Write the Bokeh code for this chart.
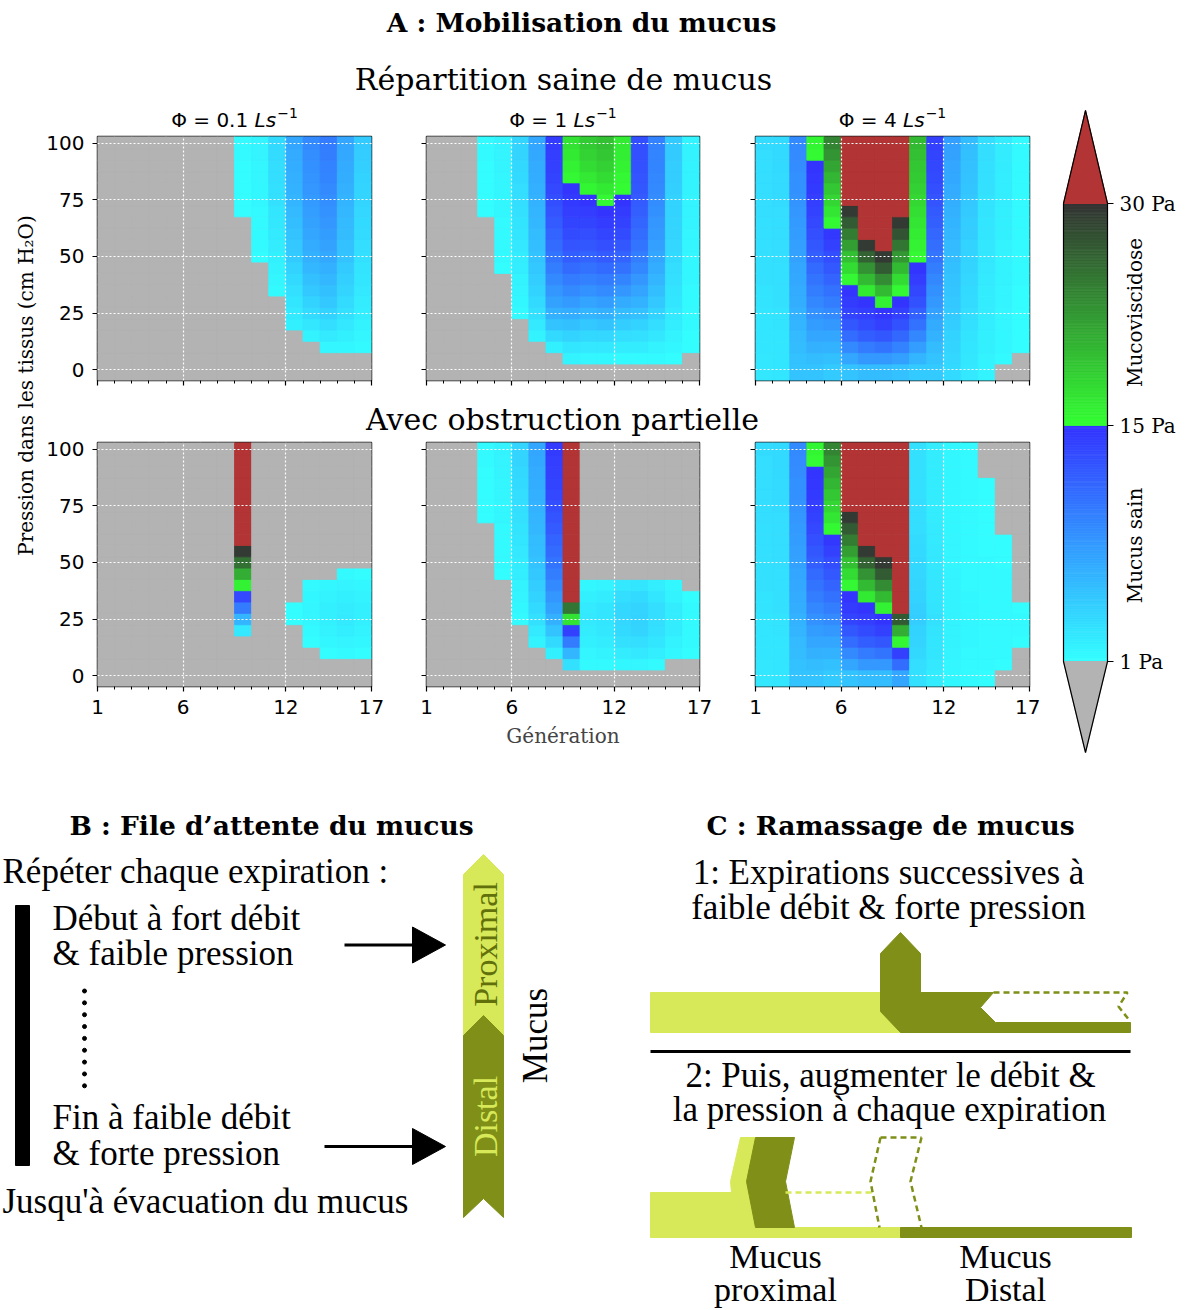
import numpy as np
from bokeh.plotting import figure
from bokeh.models import Range1d, LinearColorMapper, FixedTicker, ColumnDataSource
from bokeh.layouts import row, column
from bokeh.transform import transform
from bokeh.core.properties import value
from bokeh.embed import file_html
from bokeh.resources import INLINE

# ------------------------------------------------------------------ data
PRESSURE = [0, 5, 10, 15, 20, 25, 30, 35, 40, 45, 50, 55, 60, 65, 70, 75, 80, 85, 90, 95, 100]
GENERATION = [1, 2, 3, 4, 5, 6, 7, 8, 9, 10, 11, 12, 13, 14, 15, 16]
GEN_TICKS = [1, 6, 12, 17]
GEN_MINOR = [1, 2, 3, 4, 5, 6, 7, 8, 9, 10, 11, 12, 13, 14, 15, 16, 17]
PRESSURE_TICKS = [0, 25, 50, 75, 100]
FLOW_LABELS = ["0.1", "1", "4"]
STRESS_TICKS = [1, 15, 30]
STRESS_TICK_LABELS = ["1 Pa", "15 Pa", "30 Pa"]
# wall stress (Pa) per generation column, bottom (0 cmH2O) to top (100 cmH2O)
# 0 = below 1 Pa (grey), 40 = above 30 Pa (red)
healthy_01 = [
    [0,0,0,0,0,0,0,0,0,0,0,0,0,0,0,0,0,0,0,0,0],
    [0,0,0,0,0,0,0,0,0,0,0,0,0,0,0,0,0,0,0,0,0],
    [0,0,0,0,0,0,0,0,0,0,0,0,0,0,0,0,0,0,0,0,0],
    [0,0,0,0,0,0,0,0,0,0,0,0,0,0,0,0,0,0,0,0,0],
    [0,0,0,0,0,0,0,0,0,0,0,0,0,0,0,0,0,0,0,0,0],
    [0,0,0,0,0,0,0,0,0,0,0,0,0,0,0,0,0,0,0,0,0],
    [0,0,0,0,0,0,0,0,0,0,0,0,0,0,0,0,0,0,0,0,0],
    [0,0,0,0,0,0,0,0,0,0,0,0,0,0,0,0,0,0,0,0,0],
    [0,0,0,0,0,0,0,0,0,0,0,0,0,0,1.1,1.1,1.2,1.2,1.2,1.3,1.3],
    [0,0,0,0,0,0,0,0,0,0,1.2,1.3,1.3,1.4,1.4,1.5,1.5,1.6,1.6,1.7,1.7],
    [0,0,0,0,0,0,0,1.4,1.6,1.8,2.0,2.2,2.4,2.6,2.8,3.0,3.1,3.2,3.3,3.4,3.5],
    [0,0,0,0,2.0,2.4,2.8,3.1,3.5,4.0,4.5,4.8,5.1,5.4,5.7,6.0,6.2,6.4,6.6,6.8,7.0],
    [0,0,0,1.8,2.6,3.4,4.1,4.7,5.3,5.8,6.3,6.7,7.0,7.3,7.6,7.9,8.1,8.3,8.5,8.7,9.0],
    [0,0,1.6,2.4,3.2,4.0,4.7,5.3,5.9,6.4,6.9,7.3,7.7,8.1,8.4,8.7,9.0,9.3,9.5,9.8,10.0],
    [0,0,1.5,2.0,2.5,3.0,3.4,3.8,4.2,4.6,5.0,5.2,5.5,5.7,5.9,6.1,6.3,6.5,6.7,6.9,7.0],
    [0,0,1.3,1.6,1.9,2.1,2.3,2.5,2.7,2.9,3.1,3.2,3.4,3.5,3.7,3.8,3.9,4.1,4.2,4.4,4.5],
]
healthy_1 = [
    [0,0,0,0,0,0,0,0,0,0,0,0,0,0,0,0,0,0,0,0,0],
    [0,0,0,0,0,0,0,0,0,0,0,0,0,0,0,0,0,0,0,0,0],
    [0,0,0,0,0,0,0,0,0,0,0,0,0,0,0,0,0,0,0,0,0],
    [0,0,0,0,0,0,0,0,0,0,0,0,0,0,1.1,1.1,1.2,1.2,1.2,1.3,1.3],
    [0,0,0,0,0,0,0,0,0,1.2,1.3,1.3,1.4,1.4,1.5,1.5,1.6,1.6,1.7,1.7,1.8],
    [0,0,0,0,0,1.3,1.5,1.7,1.9,2.1,2.3,2.5,2.7,2.9,3.0,3.2,3.3,3.5,3.6,3.8,3.9],
    [0,0,0,1.8,2.4,3.0,3.5,4.0,4.4,4.8,5.1,5.4,5.6,5.8,6.0,6.2,6.4,6.6,6.8,6.9,7.0],
    [0,0,2.0,3.5,5.0,6.3,7.3,8.2,9.0,9.8,10.5,11.1,11.7,12.2,12.7,13.1,13.5,13.8,14.0,14.2,14.4],
    [0,1.8,2.8,4.0,5.3,6.6,7.8,9.0,10.1,11.1,12.0,12.7,13.3,13.8,14.2,14.5,14.8,15.5,16.0,16.5,17.0],
    [0,1.6,2.5,3.6,4.8,6.0,7.2,8.4,9.6,10.7,11.7,12.5,13.2,13.8,14.3,14.8,15.6,16.6,17.5,18.2,18.8],
    [0,1.5,2.5,3.7,5.0,6.3,7.6,8.9,10.1,11.2,12.2,13.0,13.7,14.3,14.8,15.4,16.5,17.5,18.3,19.0,19.5],
    [0,1.4,2.2,3.2,4.3,5.5,6.8,8.1,9.4,10.6,11.6,12.5,13.3,13.9,14.4,14.8,15.2,15.5,15.8,16.1,16.4],
    [0,1.4,2.2,3.1,4.1,5.2,6.2,7.2,8.2,9.1,9.9,10.5,11.0,11.5,11.9,12.2,12.5,12.7,12.9,13.0,13.1],
    [0,1.3,1.9,2.6,3.3,4.0,4.7,5.4,6.0,6.6,7.1,7.5,7.9,8.2,8.5,8.8,9.0,9.2,9.3,9.4,9.5],
    [0,1.2,1.5,1.8,2.1,2.4,2.7,2.9,3.1,3.3,3.5,3.7,3.8,3.9,4.0,4.1,4.2,4.3,4.4,4.5,4.5],
    [0,0,1.1,1.2,1.3,1.3,1.4,1.4,1.5,1.5,1.6,1.6,1.6,1.7,1.7,1.7,1.8,1.8,1.8,1.8,1.8],
]
healthy_4 = [
    [2.6,2.6,2.7,2.7,2.8,2.8,2.9,2.9,3.0,3.0,3.0,3.1,3.1,3.1,3.2,3.2,3.2,3.3,3.3,3.3,3.4],
    [2.7,2.7,2.8,2.8,2.9,2.9,3.0,3.0,3.1,3.1,3.2,3.2,3.3,3.3,3.3,3.4,3.4,3.4,3.5,3.5,3.5],
    [5.0,5.2,5.5,5.7,6.0,6.2,6.5,6.7,6.9,7.1,7.3,7.5,7.7,7.9,8.1,8.3,8.5,8.6,8.8,8.9,9.0],
    [5.0,5.6,6.3,7.0,7.7,8.4,9.1,9.8,10.5,11.2,11.9,12.5,13.0,13.5,13.9,14.2,14.5,14.7,14.8,15.3,15.6],
    [4.5,5.3,6.2,7.1,8.0,8.9,9.8,10.7,11.6,12.4,13.2,14.0,14.6,15.4,16.8,18.0,19.2,20.4,21.6,22.8,24.0],
    [5.0,7.0,9.0,11.0,12.5,13.8,14.4,14.8,15.5,17.5,19.5,22.0,24.5,27.0,29.5,40,40,40,40,40,40],
    [5.5,8.0,10.0,12.0,13.3,14.2,14.8,16.5,20.0,23.0,26.5,29.5,40,40,40,40,40,40,40,40,40],
    [5.5,8.0,10.5,12.5,14.0,14.8,16.0,20.0,23.5,27.0,29.5,40,40,40,40,40,40,40,40,40,40],
    [5.2,7.5,9.5,11.3,12.8,14.0,14.8,15.5,17.5,20.0,22.5,25.0,27.5,29.5,40,40,40,40,40,40,40],
    [4.5,6.0,7.6,9.2,10.6,11.8,12.8,13.6,14.3,14.8,15.3,15.8,16.3,16.8,17.3,17.8,18.3,18.8,19.2,19.6,20.0],
    [4.5,5.0,5.6,6.2,6.8,7.4,8.0,8.6,9.2,9.8,10.4,10.9,11.4,11.9,12.3,12.7,13.0,13.3,13.6,13.8,14.0],
    [3.5,3.7,3.9,4.1,4.3,4.5,4.7,4.9,5.1,5.3,5.5,5.7,5.9,6.1,6.3,6.5,6.7,6.9,7.1,7.3,7.5],
    [2.5,2.6,2.8,2.9,3.1,3.2,3.4,3.5,3.7,3.8,4.0,4.1,4.3,4.4,4.6,4.7,4.9,5.0,5.2,5.3,5.5],
    [1.8,1.9,2.0,2.0,2.1,2.2,2.3,2.3,2.4,2.5,2.6,2.6,2.7,2.8,2.9,2.9,3.0,3.1,3.1,3.2,3.3],
    [0,1.4,1.5,1.5,1.6,1.6,1.7,1.7,1.8,1.8,1.9,1.9,2.0,2.0,2.0,2.1,2.1,2.1,2.2,2.2,2.2],
    [0,0,1.1,1.1,1.2,1.2,1.2,1.2,1.3,1.3,1.3,1.3,1.3,1.3,1.4,1.4,1.4,1.4,1.4,1.4,1.4],
]
obstructed_01 = [
    [0,0,0,0,0,0,0,0,0,0,0,0,0,0,0,0,0,0,0,0,0],
    [0,0,0,0,0,0,0,0,0,0,0,0,0,0,0,0,0,0,0,0,0],
    [0,0,0,0,0,0,0,0,0,0,0,0,0,0,0,0,0,0,0,0,0],
    [0,0,0,0,0,0,0,0,0,0,0,0,0,0,0,0,0,0,0,0,0],
    [0,0,0,0,0,0,0,0,0,0,0,0,0,0,0,0,0,0,0,0,0],
    [0,0,0,0,0,0,0,0,0,0,0,0,0,0,0,0,0,0,0,0,0],
    [0,0,0,0,0,0,0,0,0,0,0,0,0,0,0,0,0,0,0,0,0],
    [0,0,0,0,0,0,0,0,0,0,0,0,0,0,0,0,0,0,0,0,0],
    [0,0,0,0,2.5,6.0,10.0,13.5,16.0,21.0,25.5,29.5,40,40,40,40,40,40,40,40,40],
    [0,0,0,0,0,0,0,0,0,0,0,0,0,0,0,0,0,0,0,0,0],
    [0,0,0,0,0,0,0,0,0,0,0,0,0,0,0,0,0,0,0,0,0],
    [0,0,0,0,0,1.2,1.2,0,0,0,0,0,0,0,0,0,0,0,0,0,0],
    [0,0,0,1.2,1.4,1.6,1.6,1.5,1.3,0,0,0,0,0,0,0,0,0,0,0,0],
    [0,0,1.2,1.5,1.8,2.0,2.0,1.8,1.5,0,0,0,0,0,0,0,0,0,0,0,0],
    [0,0,1.3,1.7,2.1,2.4,2.3,2.0,1.7,1.3,0,0,0,0,0,0,0,0,0,0,0],
    [0,0,1.2,1.5,1.8,2.0,2.0,1.8,1.5,1.2,0,0,0,0,0,0,0,0,0,0,0],
]
obstructed_1 = [
    [0,0,0,0,0,0,0,0,0,0,0,0,0,0,0,0,0,0,0,0,0],
    [0,0,0,0,0,0,0,0,0,0,0,0,0,0,0,0,0,0,0,0,0],
    [0,0,0,0,0,0,0,0,0,0,0,0,0,0,0,0,0,0,0,0,0],
    [0,0,0,0,0,0,0,0,0,0,0,0,0,0,1.1,1.1,1.2,1.2,1.2,1.3,1.3],
    [0,0,0,0,0,0,0,0,0,1.2,1.3,1.3,1.4,1.4,1.5,1.5,1.6,1.6,1.7,1.7,1.8],
    [0,0,0,0,0,1.3,1.5,1.7,1.9,2.1,2.3,2.5,2.7,2.9,3.0,3.2,3.3,3.5,3.6,3.8,3.9],
    [0,0,0,1.8,2.4,3.0,3.5,4.0,4.4,4.8,5.1,5.4,5.6,5.8,6.0,6.2,6.4,6.6,6.8,6.9,7.0],
    [0,0,2.0,3.5,5.0,6.3,7.3,8.2,9.0,9.8,10.5,11.1,11.7,12.2,12.7,13.1,13.5,13.8,14.0,14.2,14.4],
    [0,3.0,6.0,10.0,14.0,17.0,25.0,40,40,40,40,40,40,40,40,40,40,40,40,40,40],
    [0,1.3,1.6,2.0,2.3,2.5,2.4,2.0,1.5,0,0,0,0,0,0,0,0,0,0,0,0],
    [0,1.4,1.9,2.3,2.6,2.8,2.7,2.3,1.7,0,0,0,0,0,0,0,0,0,0,0,0],
    [0,1.5,2.3,3.0,3.5,3.7,3.6,3.2,2.5,0,0,0,0,0,0,0,0,0,0,0,0],
    [0,1.6,2.5,3.3,3.8,4.0,3.9,3.5,2.7,0,0,0,0,0,0,0,0,0,0,0,0],
    [0,1.4,2.1,2.7,3.1,3.3,3.2,2.8,2.1,0,0,0,0,0,0,0,0,0,0,0,0],
    [0,0,1.5,1.9,2.2,2.3,2.2,1.9,1.5,0,0,0,0,0,0,0,0,0,0,0,0],
    [0,0,1.2,1.3,1.4,1.4,1.3,1.2,0,0,0,0,0,0,0,0,0,0,0,0,0],
]
obstructed_4 = [
    [2.6,2.6,2.7,2.7,2.8,2.8,2.9,2.9,3.0,3.0,3.0,3.1,3.1,3.1,3.2,3.2,3.2,3.3,3.3,3.3,3.4],
    [2.7,2.7,2.8,2.8,2.9,2.9,3.0,3.0,3.1,3.1,3.2,3.2,3.3,3.3,3.3,3.4,3.4,3.4,3.5,3.5,3.5],
    [5.0,5.2,5.5,5.7,6.0,6.2,6.5,6.7,6.9,7.1,7.3,7.5,7.7,7.9,8.1,8.3,8.5,8.6,8.8,8.9,9.0],
    [5.0,5.6,6.3,7.0,7.7,8.4,9.1,9.8,10.5,11.2,11.9,12.5,13.0,13.5,13.9,14.2,14.5,14.7,14.8,15.3,15.6],
    [4.5,5.3,6.2,7.1,8.0,8.9,9.8,10.7,11.6,12.4,13.2,14.0,14.6,15.4,16.8,18.0,19.2,20.4,21.6,22.8,24.0],
    [5.0,7.0,9.0,11.0,12.5,13.8,14.4,14.8,15.5,17.5,19.5,22.0,24.5,27.0,29.5,40,40,40,40,40,40],
    [5.5,8.0,10.0,12.0,13.3,14.2,14.8,16.5,20.0,23.0,26.5,29.5,40,40,40,40,40,40,40,40,40],
    [5.5,8.0,10.5,12.5,14.0,14.8,16.0,20.0,23.5,27.0,29.5,40,40,40,40,40,40,40,40,40,40],
    [7.0,11.0,14.0,15.5,21.0,27.0,40,40,40,40,40,40,40,40,40,40,40,40,40,40,40],
    [3.0,3.3,3.6,3.9,4.1,4.3,4.2,4.0,3.8,3.7,3.6,3.5,3.4,3.3,3.2,3.2,3.1,3.1,3.0,3.0,3.0],
    [2.3,2.5,2.7,2.8,2.9,3.0,2.9,2.8,2.7,2.6,2.5,2.5,2.4,2.4,2.3,2.3,2.3,2.2,2.2,2.2,2.2],
    [1.5,1.6,1.7,1.8,1.8,1.9,1.8,1.8,1.7,1.7,1.6,1.6,1.6,1.5,1.5,1.5,1.5,1.5,1.5,1.5,1.5],
    [1.3,1.4,1.4,1.5,1.5,1.5,1.5,1.5,1.4,1.4,1.4,1.4,1.3,1.3,1.3,1.3,1.3,1.3,1.3,1.3,1.3],
    [1.2,1.3,1.3,1.3,1.4,1.4,1.4,1.3,1.3,1.3,1.3,1.2,1.2,1.2,1.2,1.2,1.2,1.1,0,0,0],
    [0,1.2,1.3,1.3,1.4,1.4,1.4,1.3,1.3,1.3,1.2,1.2,1.1,0,0,0,0,0,0,0,0],
    [0,0,0,1.2,1.3,1.3,1.2,0,0,0,0,0,0,0,0,0,0,0,0,0,0],
]

# ------------------------------------------------------------------ style
GREY = "#b3b3b3"
RED = "#b23434"
LIGHT = "#d7e958"
DARK = "#7f8f17"
Y_LO, Y_HI = -4.8, 103.0
FRAME_H = 244


def stress_rgb(v):
    if v < 15:
        g = 255 - (v - 1) / 14 * 204
        return "#%02x%02x%02x" % (51, int(round(g)), 255)
    g = 255 - (v - 15) / 15 * 204
    return "#%02x%02x%02x" % (51, int(round(g)), 51)


PALETTE = [stress_rgb(1 + (i + 0.5) * 29 / 290) for i in range(290)]
mapper = LinearColorMapper(palette=PALETTE, low=1, high=30, low_color=GREY, high_color=RED)


def txt(p, x, y, s, size, font="Liberation Serif", align="center", style="normal",
        color="black", angle=0.0):
    p.text(x=[x], y=[y], text=[s], text_font=value(font), text_font_size=value("%gpx" % size),
           text_align=align, text_baseline="middle", text_font_style=style,
           text_color=color, angle=angle)


def canvas(x0, x1, y0, y1):
    p = figure(width=int(x1 - x0), height=int(y1 - y0), x_range=Range1d(x0, x1),
               y_range=Range1d(y1, y0), toolbar_location=None, output_backend="svg",
               x_axis_type=None, y_axis_type=None, min_border=0)
    p.outline_line_color = None
    return p


def heat_fig(data, fw, bl, br, bt, bb, show_y, show_x, xlabel=None):
    p = figure(width=bl + fw + br, height=bt + FRAME_H + bb, x_range=Range1d(1, 17),
               y_range=Range1d(Y_LO, Y_HI), toolbar_location=None, output_backend="svg",
               min_border_left=bl, min_border_right=br, min_border_top=bt,
               min_border_bottom=bb, background_fill_color=GREY)
    left, right, bottom, top, vals = [], [], [], [], []
    n = len(PRESSURE)
    for g, col in zip(GENERATION, data):
        for k, (pr, v) in enumerate(zip(PRESSURE, col)):
            left.append(g)
            right.append(g + 1)
            bottom.append(Y_LO if k == 0 else pr - 2.5)
            top.append(Y_HI if k == n - 1 else pr + 2.5)
            vals.append(v)
    src = ColumnDataSource(dict(left=left, right=right, bottom=bottom, top=top, v=vals))
    p.quad(left="left", right="right", bottom="bottom", top="top", source=src,
           fill_color=transform("v", mapper), line_color=transform("v", mapper),
           line_width=0.8)
    p.xaxis.ticker = FixedTicker(ticks=GEN_TICKS, minor_ticks=GEN_MINOR)
    p.yaxis.ticker = FixedTicker(ticks=PRESSURE_TICKS)
    for ax in (p.xaxis[0], p.yaxis[0]):
        ax.axis_line_color = None
        ax.major_tick_line_color = "black"
        ax.major_tick_line_width = 1.2
        ax.major_tick_in = 0
        ax.major_tick_out = 5
        ax.minor_tick_line_color = "black"
        ax.minor_tick_line_width = 1
        ax.minor_tick_in = 0
        ax.minor_tick_out = 3
        ax.major_label_text_font = "DejaVu Sans"
        ax.major_label_text_font_size = "20px"
        ax.major_label_text_color = "black"
    p.yaxis.major_label_standoff = 8
    p.xaxis.major_label_standoff = 8
    if not show_y:
        p.yaxis.major_label_overrides = {t: "" for t in PRESSURE_TICKS}
    if not show_x:
        p.xaxis.major_label_overrides = {t: "" for t in GEN_TICKS}
    if xlabel:
        p.xaxis.axis_label = xlabel
        p.xaxis.axis_label_text_font = "DejaVu Serif"
        p.xaxis.axis_label_text_font_size = "20px"
        p.xaxis.axis_label_text_font_style = "normal"
        p.xaxis.axis_label_standoff = 7
    p.xgrid.ticker = FixedTicker(ticks=GEN_TICKS[1:-1])
    p.ygrid.ticker = FixedTicker(ticks=PRESSURE_TICKS)
    p.grid.grid_line_color = "white"
    p.grid.grid_line_dash = "2 2"
    p.grid.grid_line_width = 1.2
    p.grid.level = "overlay"
    p.outline_line_color = "#1a1a1a"
    p.outline_line_width = 1.5
    return p


# ------------------------------------------------------------------ panel A
FRAME_W = [274, 273, 274]
BORDER_L = [57, 26, 27]
BORDER_R = [29, 29, 11]
X_START = [40, 400, 728]
PANEL_CX = [X_START[i] + BORDER_L[i] + FRAME_W[i] / 2 for i in range(3)]

top_data = [healthy_01, healthy_1, healthy_4]
bot_data = [obstructed_01, obstructed_1, obstructed_4]
row1 = [heat_fig(top_data[i], FRAME_W[i], BORDER_L[i], BORDER_R[i], 6, 15, i == 0, False)
        for i in range(3)]
row2 = [heat_fig(bot_data[i], FRAME_W[i], BORDER_L[i], BORDER_R[i], 4, 74, i == 0, True,
                 "Génération" if i == 1 else None) for i in range(3)]

header = canvas(0, 1040, 0, 130)
txt(header, 581, 22, "A : Mobilisation du mucus", 26.5, "DejaVu Serif", style="bold")
txt(header, 563, 79, "Répartition saine de mucus", 30, "DejaVu Serif")
DV = {"Φ": 0.790, " ": 0.318, "=": 0.838, "0": 0.636, "1": 0.636, "4": 0.636, ".": 0.318}
for cx, flow in zip(PANEL_CX, FLOW_LABELS):
    head = "Φ = " + flow
    w_head = sum(DV[c] for c in head) * 20
    w_sp = DV[" "] * 20
    w_ls = (0.557 + 0.521) * 20
    w_sup = (0.838 + 0.636) * 14
    x0 = cx - (w_head + w_sp + w_ls + 1 + w_sup) / 2
    txt(header, x0, 119, head, 20, "DejaVu Sans", align="left")
    txt(header, x0 + w_head + w_sp, 119, "Ls", 20, "DejaVu Sans", align="left", style="italic")
    txt(header, x0 + w_head + w_sp + w_ls + 1, 112, "−1", 14, "DejaVu Sans", align="left")

strip = canvas(40, 1040, 395, 438)
txt(strip, 562, 419, "Avec obstruction partielle", 30, "DejaVu Serif")

ylab = canvas(0, 40, 130, 760)
txt(ylab, 25, 385, "Pression dans les tissus (cm H₂O)", 20, "DejaVu Serif", angle=np.pi / 2)

# colour bar
cbar = canvas(1040, 1187, 0, 760)
CB_X0, CB_X1 = 1063, 1107
CB_POS = [661, 425, 203]
edges = np.linspace(1, 30, 291)
mids = (edges[:-1] + edges[1:]) / 2
cb_src = ColumnDataSource(dict(
    bottom=np.interp(edges[:-1], STRESS_TICKS, CB_POS),
    top=np.interp(edges[1:], STRESS_TICKS, CB_POS), v=mids))
cbar.quad(left=CB_X0, right=CB_X1, bottom="bottom", top="top", source=cb_src,
          fill_color=transform("v", mapper), line_color=transform("v", mapper), line_width=0.8)
cbar.patch([CB_X0, CB_X1, (CB_X0 + CB_X1) / 2], [CB_POS[2], CB_POS[2], 110], color=RED)
cbar.patch([CB_X0, CB_X1, (CB_X0 + CB_X1) / 2], [CB_POS[0], CB_POS[0], 752], color=GREY)
cbar.line([CB_X0, (CB_X0 + CB_X1) / 2, CB_X1, CB_X1, (CB_X0 + CB_X1) / 2, CB_X0, CB_X0],
          [CB_POS[2], 110, CB_POS[2], CB_POS[0], 752, CB_POS[0], CB_POS[2]],
          line_color="black", line_width=1.2)
for tv, lab in zip(STRESS_TICKS, STRESS_TICK_LABELS):
    yy = float(np.interp(tv, STRESS_TICKS, CB_POS))
    cbar.line([CB_X1, CB_X1 + 6], [yy, yy], line_color="black", line_width=1.2)
    txt(cbar, CB_X1 + 12, yy, lab, 20, "DejaVu Serif", align="left")
txt(cbar, 1134, 312, "Mucoviscidose", 20, "DejaVu Serif", angle=np.pi / 2)
txt(cbar, 1134, 545, "Mucus sain", 20, "DejaVu Serif", angle=np.pi / 2)

# ------------------------------------------------------------------ panel B
pB = canvas(0, 600, 760, 1308)
txt(pB, 271, 825, "B : File d’attente du mucus", 26.5, "DejaVu Serif", style="bold")
txt(pB, 2, 871, "Répéter chaque expiration :", 35, align="left")
pB.quad(left=15, right=29, top=905, bottom=1165, color="black")
txt(pB, 52, 918, "Début à fort débit", 35, align="left")
txt(pB, 52, 953, "& faible pression", 35, align="left")
pB.scatter(x=[84] * 9, y=[990.5 + 11.85 * i for i in range(9)], size=4, color="black")
txt(pB, 52, 1117, "Fin à faible débit", 35, align="left")
txt(pB, 52, 1153, "& forte pression", 35, align="left")
txt(pB, 2, 1201, "Jusqu'à évacuation du mucus", 35, align="left")
for xs, ya in ((344, 944.5), (324, 1146)):
    pB.line([xs, 416], [ya, ya], line_color="black", line_width=3)
    pB.patch([412, 445, 412], [ya - 18, ya, ya + 18], color="black")
pB.patch([463, 483, 503, 503, 483, 463], [874, 854, 874, 1035, 1015, 1035], color=LIGHT)
pB.patch([463, 483, 503, 503, 483, 463], [1035, 1015, 1035, 1217, 1198, 1217], color=DARK)
txt(pB, 485, 944, "Proximal", 34, color="#62700c", angle=np.pi / 2)
txt(pB, 485, 1116, "Distal", 34, color=LIGHT, angle=np.pi / 2)
txt(pB, 535, 1035, "Mucus", 35, angle=np.pi / 2)

# ------------------------------------------------------------------ panel C
pC = canvas(600, 1187, 760, 1308)
txt(pC, 890, 825, "C : Ramassage de mucus", 26.5, "DejaVu Serif", style="bold")
txt(pC, 888, 872, "1: Expirations successives à", 35)
txt(pC, 888, 907, "faible débit & forte pression", 35)
pC.quad(left=650, right=900, top=992, bottom=1032, color=LIGHT)
pC.patch([880, 900, 920, 920, 993, 980, 995, 1130, 1130, 900, 880],
         [953, 932, 953, 992, 992, 1007, 1022, 1022, 1032, 1032, 1011], color=DARK)
pC.line([993, 1127, 1118, 1129], [992, 992, 1006, 1020], line_color=DARK, line_width=2.5,
        line_dash="6 4")
pC.line([650, 1130], [1051, 1051], line_color="black", line_width=3)
txt(pC, 890, 1075, "2: Puis, augmenter le débit &", 35)
txt(pC, 889, 1109, "la pression à chaque expiration", 35)
pC.patch([650, 731, 730, 740, 760, 760, 900, 900, 650],
         [1192, 1192, 1181, 1137, 1137, 1227, 1227, 1237, 1237], color=LIGHT)
pC.patch([755, 794, 785, 794, 755, 746], [1137, 1137, 1181, 1227, 1227, 1181], color=DARK)
pC.quad(left=900, right=1131, top=1227, bottom=1237, color=DARK)
pC.line([785, 872], [1192, 1192], line_color=LIGHT, line_width=2.5, line_dash="6 4")
pC.multi_line([[880, 921], [880, 870, 879], [921, 910, 921]],
              [[1137, 1137], [1137, 1181, 1227], [1137, 1181, 1227]],
              line_color=DARK, line_width=2.5, line_dash="6 4")
txt(pC, 775, 1256, "Mucus", 34)
txt(pC, 775, 1289, "proximal", 34)
txt(pC, 1005, 1256, "Mucus", 34)
txt(pC, 1005, 1289, "Distal", 34)

# ------------------------------------------------------------------ layout
left_block = column(header,
                    row(ylab, column(row(*row1), strip, row(*row2))))
top_block = row(left_block, cbar)
layout = column(top_block, row(pB, pC))

open("out.html", "w").write(file_html(layout, INLINE))
